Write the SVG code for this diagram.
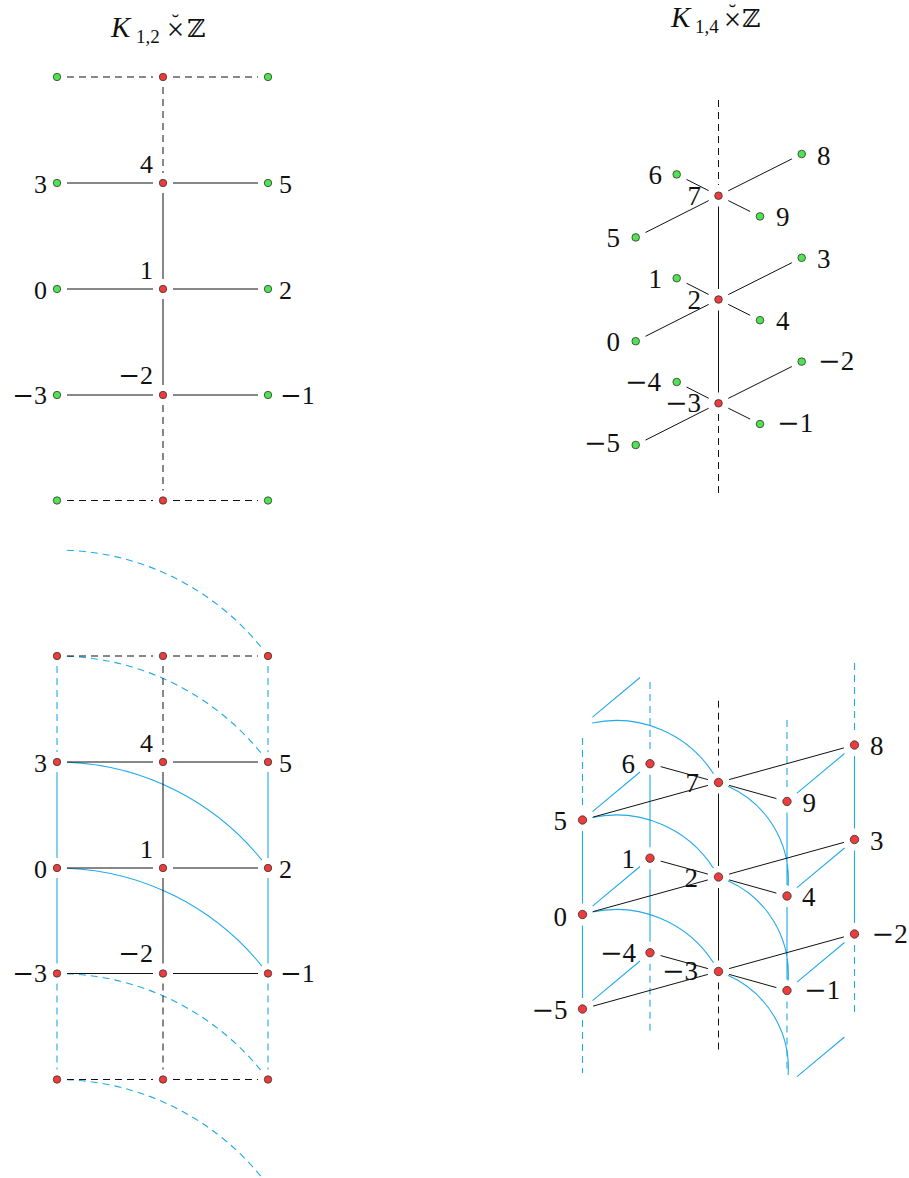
<svg xmlns="http://www.w3.org/2000/svg" width="909" height="1178" viewBox="0 0 909 1178">
<style>
text{font-family:"Liberation Serif","DejaVu Serif",serif;fill:#111}
.s{font-size:26px}
.l{font-size:27px}
.e{text-anchor:end}
.mn{font-family:"DejaVu Serif",serif}
.k{stroke:#111;stroke-width:1;fill:none}
.d{stroke-dasharray:7 5}
.b{stroke:#22AAE8;stroke-width:1.1;fill:none}
.r{fill:#EE3B3B;stroke:#333;stroke-width:0.8}
.g{fill:#4FE34F;stroke:#333;stroke-width:0.8}
.z{font-family:"DejaVu Serif",serif;font-size:25px}
.ki{font-style:italic;font-size:29px}
.sub{font-size:19px}
.x{font-size:31px;text-anchor:middle}
.br{font-size:22px;text-anchor:middle}
</style>
<g id="titles">
<g id="title-left">
<text><tspan class="ki" x="111" y="37">K</tspan><tspan class="sub" x="136" y="43">1,2</tspan><tspan class="x" x="175.5" y="40">×</tspan><tspan class="br" x="175.5" y="29">˘</tspan><tspan class="z" x="187" y="37">ℤ</tspan></text>
</g>
<g id="title-right">
<text><tspan class="ki" x="671" y="27">K</tspan><tspan class="sub" x="695" y="33">1,4</tspan><tspan class="x" x="732.5" y="30">×</tspan><tspan class="br" x="732.5" y="19">˘</tspan><tspan class="z" x="742" y="27">ℤ</tspan></text>
</g>
</g>
<g id="connectors">
<path class="k d" d="M67,77H153M173,77H258M67,500.5H153M173,500.5H258M163,87V173M163,405V490.5"/>
<path class="k" d="M67,183H153M173,183H258M67,289H153M173,289H258M67,395H153M173,395H258M163,193V279M163,299V385"/>
<path class="b d" d="M57,666V752M268,666V752M57,983.5V1069.5M268,983.5V1069.5"/>
<path class="b" d="M57,772V858M57,878V963.5M268,772V858M268,878V963.5"/>
<path class="b d" d="M66.9,550.2A263.3,263.3 0 0 1 261.9,648.1M66.9,656.2A263.3,263.3 0 0 1 261.9,754.1M66.9,973.7A263.3,263.3 0 0 1 261.9,1071.6M66.9,1079.7A263.3,263.3 0 0 1 261.9,1177.6"/>
<path class="b" d="M66.9,762.2A263.3,263.3 0 0 1 261.9,860.1M66.9,868.2A263.3,263.3 0 0 1 261.9,966.1"/>
<path class="k d" d="M67,656H153M173,656H258M67,1079.5H153M173,1079.5H258M163,666V752M163,983.5V1069.5"/>
<path class="k" d="M67,762H153M173,762H258M67,868H153M173,868H258M67,973.5H153M173,973.5H258M163,772V858M163,878V963.5"/>
<path class="k d" d="M718.5,100V185M718.5,414V497"/>
<path class="k" d="M718.5,206.5V289M718.5,310.5V392.5
M728.3,190.8L791.9,158.9M708.7,200.6L645.5,232.5M708.7,190.7L686.5,179.4M728.3,200.6L750.2,211.5
M728.3,294.6L791.9,262.7M708.7,304.4L645.5,336.3M708.7,294.5L686.5,283.2M728.3,304.4L750.2,315.3
M728.3,398.4L791.9,366.5M708.7,408.2L645.5,440.1M708.7,398.3L686.5,387M728.3,408.2L750.2,419.1"/>
<path class="b d" d="M582.5,738V809M582.5,1020V1073M650,682V752.7M650,963.7V1035M787,720V790.5M787,1001.5V1073M854.5,663V734M854.5,945V1016"/>
<path class="b" d="M582.5,831V903.5M582.5,925.5V998M650,774.7V847.2M650,869.2V941.7M787,812.5V885M787,907V979.5M854.5,756V828.5M854.5,850.5V923
M592.5,717.2L640,677.5M592.5,811.7L640,772M592.5,906.2L640,866.5M592.5,1000.7L640,961
M797,793.2L844.5,753.5M797,887.7L844.5,848M797,982.2L844.5,942.5M797,1076.7L844.5,1037
M592.2,723A115.5,115.5 0 0 1 713.5,773.8M592.2,817.5A115.5,115.5 0 0 1 713.5,868.3M592.2,912A115.5,115.5 0 0 1 713.5,962.8
M727.9,786.2A101.7,101.7 0 0 1 788.1,886.1M727.9,880.7A101.7,101.7 0 0 1 788.1,980.6M727.9,975.2A101.7,101.7 0 0 1 788.1,1075.1"/>
<path class="k d" d="M718.5,700.7V771.5M718.5,982.5V1053"/>
<path class="k" d="M718.5,793.5V866M718.5,888V960.5
M729.1,779.6L843.9,747.9M707.9,785.4L593.1,817.1M707.9,779.6L660.6,766.6M729.1,785.4L776.4,798.6
M729.1,874.1L843.9,842.4M707.9,879.9L593.1,911.6M707.9,874.1L660.6,861.1M729.1,879.9L776.4,893.1
M729.1,968.6L843.9,936.9M707.9,974.4L593.1,1006.1M707.9,968.6L660.6,955.6M729.1,974.4L776.4,987.6"/>
</g>
<g id="tl-top-l"><circle class="g" cx="57" cy="77" r="3.7"/></g>
<g id="tl-top-c"><circle class="r" cx="163" cy="77" r="3.7"/></g>
<g id="tl-top-r"><circle class="g" cx="268" cy="77" r="3.7"/></g>
<g id="tl-3"><circle class="g" cx="57" cy="183" r="3.7"/><text class="s e" x="47" y="192.5">3</text></g>
<g id="tl-4"><circle class="r" cx="163" cy="183" r="3.7"/><text class="s e" x="153" y="172.5">4</text></g>
<g id="tl-5"><circle class="g" cx="268" cy="183" r="3.7"/><text class="s" x="279" y="192.5">5</text></g>
<g id="tl-0"><circle class="g" cx="57" cy="289" r="3.7"/><text class="s e" x="47" y="298.5">0</text></g>
<g id="tl-1"><circle class="r" cx="163" cy="289" r="3.7"/><text class="s e" x="153" y="278.5">1</text></g>
<g id="tl-2"><circle class="g" cx="268" cy="289" r="3.7"/><text class="s" x="279" y="298.5">2</text></g>
<g id="tl-m3"><circle class="g" cx="57" cy="395" r="3.7"/><text class="s e" x="47" y="403.5"><tspan class="mn">−</tspan>3</text></g>
<g id="tl-m2"><circle class="r" cx="163" cy="395" r="3.7"/><text class="s e" x="153" y="383.5"><tspan class="mn">−</tspan>2</text></g>
<g id="tl-m1"><circle class="g" cx="268" cy="395" r="3.7"/><text class="s" x="280" y="403.5"><tspan class="mn">−</tspan>1</text></g>
<g id="tl-bot-l"><circle class="g" cx="57" cy="500.5" r="3.7"/></g>
<g id="tl-bot-c"><circle class="r" cx="163" cy="500.5" r="3.7"/></g>
<g id="tl-bot-r"><circle class="g" cx="268" cy="500.5" r="3.7"/></g>
<g id="bl-top-l"><circle class="r" cx="57" cy="656" r="3.7"/></g>
<g id="bl-top-c"><circle class="r" cx="163" cy="656" r="3.7"/></g>
<g id="bl-top-r"><circle class="r" cx="268" cy="656" r="3.7"/></g>
<g id="bl-3"><circle class="r" cx="57" cy="762" r="3.7"/><text class="s e" x="47" y="771.5">3</text></g>
<g id="bl-4"><circle class="r" cx="163" cy="762" r="3.7"/><text class="s e" x="153" y="751.5">4</text></g>
<g id="bl-5"><circle class="r" cx="268" cy="762" r="3.7"/><text class="s" x="279" y="771.5">5</text></g>
<g id="bl-0"><circle class="r" cx="57" cy="868" r="3.7"/><text class="s e" x="47" y="877.5">0</text></g>
<g id="bl-1"><circle class="r" cx="163" cy="868" r="3.7"/><text class="s e" x="153" y="857.5">1</text></g>
<g id="bl-2"><circle class="r" cx="268" cy="868" r="3.7"/><text class="s" x="279" y="877.5">2</text></g>
<g id="bl-m3"><circle class="r" cx="57" cy="973.5" r="3.7"/><text class="s e" x="47" y="982"><tspan class="mn">−</tspan>3</text></g>
<g id="bl-m2"><circle class="r" cx="163" cy="973.5" r="3.7"/><text class="s e" x="153" y="962"><tspan class="mn">−</tspan>2</text></g>
<g id="bl-m1"><circle class="r" cx="268" cy="973.5" r="3.7"/><text class="s" x="280" y="982"><tspan class="mn">−</tspan>1</text></g>
<g id="bl-bot-l"><circle class="r" cx="57" cy="1079.5" r="3.7"/></g>
<g id="bl-bot-c"><circle class="r" cx="163" cy="1079.5" r="3.7"/></g>
<g id="bl-bot-r"><circle class="r" cx="268" cy="1079.5" r="3.7"/></g>
<g id="tr-7"><circle class="r" cx="718.5" cy="195.7" r="3.8"/><text class="l e" x="701" y="205">7</text></g>
<g id="tr-5"><circle class="g" cx="635.7" cy="237.4" r="3.8"/><text class="l e" x="620" y="247">5</text></g>
<g id="tr-6"><circle class="g" cx="676.7" cy="174.4" r="3.8"/><text class="l e" x="662" y="184">6</text></g>
<g id="tr-8"><circle class="g" cx="801.7" cy="154" r="3.8"/><text class="l" x="817" y="165">8</text></g>
<g id="tr-9"><circle class="g" cx="760" cy="216.4" r="3.8"/><text class="l" x="776" y="226">9</text></g>
<g id="tr-2"><circle class="r" cx="718.5" cy="299.5" r="3.8"/><text class="l e" x="701" y="309">2</text></g>
<g id="tr-0"><circle class="g" cx="635.7" cy="341.2" r="3.8"/><text class="l e" x="620" y="351">0</text></g>
<g id="tr-1"><circle class="g" cx="676.7" cy="278.2" r="3.8"/><text class="l e" x="662" y="288">1</text></g>
<g id="tr-3"><circle class="g" cx="801.7" cy="257.8" r="3.8"/><text class="l" x="817" y="268">3</text></g>
<g id="tr-4"><circle class="g" cx="760" cy="320.2" r="3.8"/><text class="l" x="776" y="330">4</text></g>
<g id="tr-m3"><circle class="r" cx="718.5" cy="403.3" r="3.8"/><text class="l e" x="701" y="412"><tspan class="mn">−</tspan>3</text></g>
<g id="tr-m5"><circle class="g" cx="635.7" cy="445" r="3.8"/><text class="l e" x="620" y="452"><tspan class="mn">−</tspan>5</text></g>
<g id="tr-m4"><circle class="g" cx="676.7" cy="382" r="3.8"/><text class="l e" x="661" y="391"><tspan class="mn">−</tspan>4</text></g>
<g id="tr-m2"><circle class="g" cx="801.7" cy="361.6" r="3.8"/><text class="l" x="818" y="370"><tspan class="mn">−</tspan>2</text></g>
<g id="tr-m1"><circle class="g" cx="760" cy="424" r="3.8"/><text class="l" x="777" y="432"><tspan class="mn">−</tspan>1</text></g>
<g id="br-7"><circle class="r" cx="718.5" cy="782.5" r="4.2"/><text class="l e" x="699" y="791.5">7</text></g>
<g id="br-5"><circle class="r" cx="582.5" cy="820" r="4.2"/><text class="l e" x="567" y="830">5</text></g>
<g id="br-6"><circle class="r" cx="650" cy="763.7" r="4.2"/><text class="l e" x="635" y="773.3">6</text></g>
<g id="br-8"><circle class="r" cx="854.5" cy="745" r="4.2"/><text class="l" x="870" y="755">8</text></g>
<g id="br-9"><circle class="r" cx="787" cy="801.5" r="4.2"/><text class="l" x="802.5" y="811.5">9</text></g>
<g id="br-2"><circle class="r" cx="718.5" cy="877" r="4.2"/><text class="l e" x="698" y="886.7">2</text></g>
<g id="br-0"><circle class="r" cx="582.5" cy="914.5" r="4.2"/><text class="l e" x="567" y="926">0</text></g>
<g id="br-1"><circle class="r" cx="650" cy="858.2" r="4.2"/><text class="l e" x="635" y="868">1</text></g>
<g id="br-3"><circle class="r" cx="854.5" cy="839.5" r="4.2"/><text class="l" x="870" y="849.5">3</text></g>
<g id="br-4"><circle class="r" cx="787" cy="896" r="4.2"/><text class="l" x="802" y="906">4</text></g>
<g id="br-m3"><circle class="r" cx="718.5" cy="971.5" r="4.2"/><text class="l e" x="698" y="980"><tspan class="mn">−</tspan>3</text></g>
<g id="br-m5"><circle class="r" cx="582.5" cy="1009" r="4.2"/><text class="l e" x="567.5" y="1018.5"><tspan class="mn">−</tspan>5</text></g>
<g id="br-m4"><circle class="r" cx="650" cy="952.7" r="4.2"/><text class="l e" x="636" y="962"><tspan class="mn">−</tspan>4</text></g>
<g id="br-m2"><circle class="r" cx="854.5" cy="934" r="4.2"/><text class="l" x="871.5" y="943.3"><tspan class="mn">−</tspan>2</text></g>
<g id="br-m1"><circle class="r" cx="787" cy="990.5" r="4.2"/><text class="l" x="804" y="999.3"><tspan class="mn">−</tspan>1</text></g>
</svg>
